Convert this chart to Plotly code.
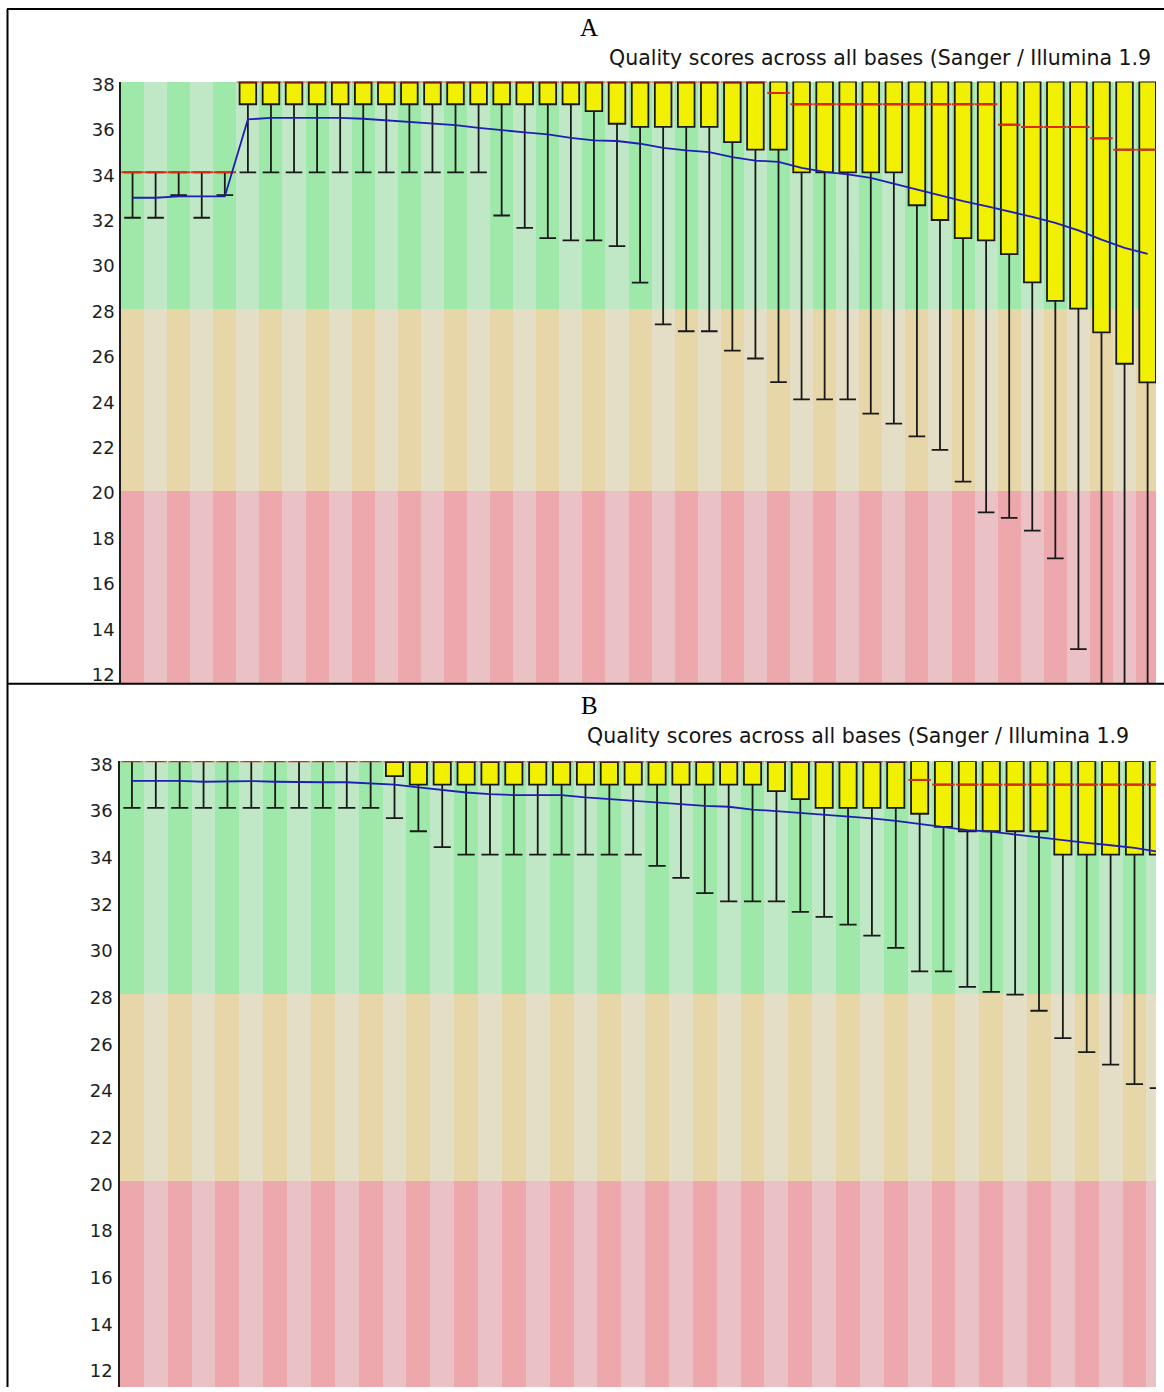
import plotly.graph_objects as go

# ---------------- data: panel A ----------------
A_pos = list(range(45))
A_lower = [32, 32, 33, 32, 33,
           34, 34, 34, 34, 34, 34, 34, 34, 34, 34, 34,
           32.1, 31.55, 31.1, 31.0, 31.0, 30.75, 29.14, 27.3, 27.0, 27.0, 26.15, 25.8,
           24.76, 24.0, 24.0, 24.0, 23.37, 22.93, 22.37, 21.78, 20.38, 19.02, 18.78,
           18.22, 17.0, 13.0, 10.5, 9.5, 9.0]
A_q1 = [34, 34, 34, 34, 34,
        37, 37, 37, 37, 37, 37, 37, 37, 37, 37, 37, 37, 37, 37, 37,
        36.7, 36.14, 36, 36, 36, 36, 35.33, 35, 35, 34, 34, 34, 34, 34,
        32.55, 31.9, 31.1, 31.0, 30.4, 29.15, 28.34, 28.0, 26.95, 25.57, 24.75]
A_median = [34, 34, 34, 34, 34] + [38] * 23 + [37.5] + [37] * 9 + [36.1, 36, 36, 36, 35.5, 35, 35]
A_q3 = [34, 34, 34, 34, 34] + [38] * 40
A_upper = [34, 34, 34, 34, 34] + [38] * 40
A_mean = [32.88, 32.88, 32.94, 32.94, 32.94, 36.33, 36.4, 36.4, 36.4, 36.4,
          36.36, 36.29, 36.25, 36.17, 36.08, 35.96, 35.85, 35.76, 35.67, 35.52,
          35.41, 35.38, 35.26, 35.08, 34.97, 34.89, 34.67, 34.52, 34.46, 34.2,
          34.02, 33.91, 33.76, 33.5, 33.25, 33.0, 32.73, 32.51, 32.29, 32.04,
          31.77, 31.44, 31.04, 30.67, 30.41]

# ---------------- data: panel B ----------------
B_pos = list(range(44))
B_lower = [36] * 11 + [35.56, 35, 34.32] + [34] * 8 + [33.52, 33, 32.35, 32, 32, 32,
           31.55, 31.33, 31.0, 30.53, 30.0, 29.0, 29.0, 28.33, 28.12, 28.0, 27.31,
           26.14, 25.54, 25.0, 24.17, 24.0]
B_q1 = [38] * 11 + [37.36] + [37] * 15 + [36.72, 36.38, 36, 36, 36, 36, 35.75, 35.19,
        35, 35, 35, 35, 34, 34, 34, 34, 34]
B_median = [38] * 33 + [37.2] + [37] * 10
B_q3 = [38] * 44
B_upper = [38] * 44
B_mean = [37.16, 37.16, 37.16, 37.12, 37.14, 37.15, 37.12, 37.1, 37.1, 37.1,
          37.05, 37.0, 36.88, 36.76, 36.66, 36.59, 36.55, 36.55, 36.55, 36.45,
          36.38, 36.29, 36.22, 36.15, 36.09, 36.05, 35.93, 35.86, 35.79, 35.72,
          35.65, 35.55, 35.44, 35.32, 35.18, 35.05, 34.98, 34.86, 34.72, 34.6,
          34.5, 34.4, 34.29, 34.12]

y_ticks = list(range(12, 39, 2))
title_text = "Quality scores across all bases (Sanger / Illumina 1.9"
panel_labels = ["A", "B"]

# quality bands: (low, high, dark colour, light colour)
BANDS = [
    (0, 20, "rgb(236,168,172)", "rgb(234,193,196)"),
    (20, 28, "rgb(230,214,168)", "rgb(228,222,198)"),
    (28, 38, "rgb(158,232,170)", "rgb(192,232,198)"),
]

W = 1164
H = 1388
OFF, SC = 7.05, 0.9925   # observed page placement of the figure


def dz(py):
    """target page pixel -> figure pixel"""
    return (py - OFF) / SC


def fy(py):
    """target page pixel (from top) -> paper fraction"""
    return 1 - dz(py) / H


fig = go.Figure()


def add_panel(pos, lower, q1, med, q3, upper, mean, xa, ya):
    n = len(pos)
    for lo, hi, dark, light in BANDS:
        fig.add_trace(go.Bar(
            x=pos, y=[hi - lo] * n, base=[lo] * n, width=1.0,
            marker=dict(color=[dark if i % 2 == 0 else light for i in range(n)],
                        line=dict(width=0)),
            xaxis=xa, yaxis=ya, hoverinfo="skip", showlegend=False))
    fig.add_trace(go.Box(
        x=pos, q1=q1, median=med, q3=q3, lowerfence=lower, upperfence=upper,
        width=0.72, whiskerwidth=1, fillcolor="rgb(240,240,0)",
        line=dict(color="rgb(25,25,25)", width=1.8), boxpoints=False,
        xaxis=xa, yaxis=ya, hoverinfo="skip", showlegend=False))
    fig.add_trace(go.Scatter(
        x=pos, y=med, mode="markers",
        marker=dict(symbol="line-ew", size=16, line=dict(color="rgb(215,45,20)", width=2)),
        xaxis=xa, yaxis=ya, hoverinfo="skip", showlegend=False))
    fig.add_trace(go.Scatter(
        x=pos, y=mean, mode="lines", line=dict(color="rgb(30,30,180)", width=1.8),
        xaxis=xa, yaxis=ya, hoverinfo="skip", showlegend=False))


add_panel(A_pos, A_lower, A_q1, A_median, A_q3, A_upper, A_mean, "x", "y")
add_panel(B_pos, B_lower, B_q1, B_median, B_q3, B_upper, B_mean, "x2", "y2")

xa_left, xb_left, x_right = 121, 120, 1156
stepA, stepB = 23.07, 23.87
# vertical geometry in target page pixels
yA_top, yA_bot, pxA = 80.5, 682, 22.68
yB_top, pxB = 759.5, 23.32
yB_bot = OFF + SC * H     # lowest page pixel the figure reaches

axis_common = dict(showgrid=False, zeroline=False)
tickfont = dict(family="DejaVu Sans", size=18, color="rgb(30,30,30)")
fig.update_layout(
    width=W, height=H, margin=dict(l=0, r=0, t=0, b=0),
    paper_bgcolor="white", plot_bgcolor="white",
    barmode="overlay", bargap=0, showlegend=False,
    xaxis=dict(domain=[xa_left / W, x_right / W],
               range=[-0.5, (x_right - xa_left) / stepA - 0.5],
               showticklabels=False, ticks="", anchor="y", **axis_common),
    xaxis2=dict(domain=[xb_left / W, x_right / W],
                range=[-0.5, (x_right - xb_left) / stepB - 0.5],
                showticklabels=False, ticks="", anchor="y2", **axis_common),
    yaxis=dict(domain=[fy(yA_bot), fy(yA_top)],
               range=[38 - (yA_bot - yA_top) / pxA, 38],
               tickvals=y_ticks, ticks="", showline=True, linecolor="rgb(30,30,30)",
               linewidth=1.5, ticklabelshift=3, ticklabelstandoff=1,
               tickfont=tickfont, anchor="x", **axis_common),
    yaxis2=dict(domain=[0, fy(yB_top)],
                range=[38 - (yB_bot - yB_top) / pxB, 38],
                tickvals=y_ticks, ticks="", showline=True, linecolor="rgb(30,30,30)",
                linewidth=1.5, ticklabelshift=3, ticklabelstandoff=2,
                tickfont=tickfont, anchor="x2", **axis_common),
)

# titles and panel letters
for ty, lab, ly, tx in [(57, panel_labels[0], 27, 607), (734, panel_labels[1], 704, 585)]:
    fig.add_annotation(x=tx / W, y=fy(ty), xref="paper", yref="paper",
                       text=title_text, showarrow=False, xanchor="left", yanchor="middle",
                       font=dict(family="DejaVu Sans", size=20.5, color="rgb(20,20,20)"))
    fig.add_annotation(x=589 / W, y=fy(ly), xref="paper", yref="paper",
                       text=lab, showarrow=False, xanchor="center", yanchor="middle",
                       font=dict(family="Liberation Serif", size=25, color="black"))

# table frame lines
for y0 in [8, 682]:
    fig.add_shape(type="line", xref="paper", yref="paper", x0=7 / W, x1=1.0,
                  y0=fy(y0), y1=fy(y0), line=dict(color="black", width=2))
fig.add_shape(type="line", xref="paper", yref="paper", x0=7.5 / W, x1=7.5 / W,
              y0=0, y1=fy(8), line=dict(color="black", width=2))

fig.write_html("out.html")
